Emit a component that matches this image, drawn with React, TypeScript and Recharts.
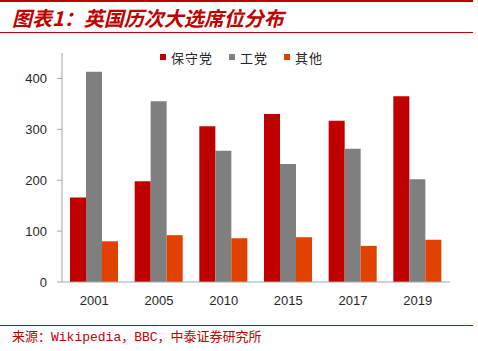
import React from 'react';
import { BarChart, Bar, XAxis, YAxis } from 'recharts';

const years = ['2001', '2005', '2010', '2015', '2017', '2019'];
const conservative = [166, 198, 306, 330, 317, 365];
const labour = [413, 355, 258, 232, 262, 202];
const others = [80, 92, 86, 88, 71, 83];
const seriesNames = ['保守党', '工党', '其他'];
const yTicks = [0, 100, 200, 300, 400];
const edgeTicks = [0, 1, 2, 3, 4, 5, 6];

const data = years.map((year, i) => ({
  year,
  con: conservative[i],
  lab: labour[i],
  oth: others[i],
}));

const RED = '#C00000';
const GRAY = '#7F7F7F';
const ORANGE = '#E24100';
const seriesColors = [RED, GRAY, ORANGE];

const axisFont = { fill: '#262626', fontSize: 13, fontFamily: 'Arial, "Liberation Sans", sans-serif' };

export default function App() {
  return (
    <div style={{ position: 'absolute', left: 0, top: 0, width: 478, height: 351, background: '#fff', overflow: 'hidden' }}>
      {/* header rules and title */}
      <div style={{ position: 'absolute', left: 0, top: 0, width: 473, height: 2, background: RED }} />
      <div
        style={{
          position: 'absolute',
          left: 12,
          top: 5,
          fontFamily: '"Noto Sans CJK SC", sans-serif',
          fontSize: 20,
          fontWeight: 700,
          fontStyle: 'italic',
          color: RED,
          lineHeight: '26px',
          whiteSpace: 'nowrap',
        }}
      >
        图表1：英国历次大选席位分布
      </div>
      <div style={{ position: 'absolute', left: 0, top: 32, width: 473, height: 1, background: RED }} />

      {/* legend */}
      <div
        style={{
          position: 'absolute',
          left: 160,
          top: 48,
          height: 18,
          display: 'flex',
          alignItems: 'center',
          fontFamily: '"Noto Sans CJK SC", sans-serif',
          fontSize: 13,
          color: '#262626',
        }}
      >
        {seriesNames.map((name, i) => (
          <div key={name} style={{ display: 'flex', alignItems: 'center', marginRight: 16 }}>
            <span style={{ display: 'inline-block', width: 6, height: 6, background: seriesColors[i], marginRight: 5 }} />
            <span style={{ letterSpacing: 1 }}>{name}</span>
          </div>
        ))}
      </div>

      <div style={{ position: 'absolute', left: 0, top: 0 }}>
        <BarChart width={478} height={310} data={data} margin={{ top: 53, right: 28, left: 0, bottom: 0 }} barGap={0}>
          <XAxis
            xAxisId="edge"
            type="number"
            domain={[0, 6]}
            ticks={edgeTicks}
            height={0}
            axisLine={false}
            tickLine={{ stroke: '#A6A6A6' }}
            tickSize={5}
            tickFormatter={() => ''}
          />
          <XAxis
            dataKey="year"
            height={28}
            axisLine={{ stroke: '#A6A6A6' }}
            tickLine={false}
            tickSize={0}
            tickMargin={14}
            tick={axisFont}
          />
          <YAxis
            width={62}
            domain={[0, 450]}
            ticks={yTicks}
            allowDataOverflow
            axisLine={{ stroke: '#A6A6A6' }}
            tickLine={{ stroke: '#A6A6A6' }}
            tickSize={5}
            tickMargin={10}
            tick={axisFont}
          />
          <Bar dataKey="con" name={seriesNames[0]} fill={RED} barSize={16} isAnimationActive={false} />
          <Bar dataKey="lab" name={seriesNames[1]} fill={GRAY} barSize={16} isAnimationActive={false} />
          <Bar dataKey="oth" name={seriesNames[2]} fill={ORANGE} barSize={16} isAnimationActive={false} />
        </BarChart>
      </div>

      {/* footer */}
      <div style={{ position: 'absolute', left: 0, top: 325, width: 473, height: 1, background: RED }} />
      <div
        style={{
          position: 'absolute',
          left: 12,
          top: 330,
          fontFamily: '"Liberation Mono", "Noto Sans CJK SC", monospace',
          fontSize: 13,
          color: RED,
          lineHeight: '16px',
          whiteSpace: 'nowrap',
        }}
      >
        来源：Wikipedia，BBC，中泰证券研究所
      </div>
    </div>
  );
}
